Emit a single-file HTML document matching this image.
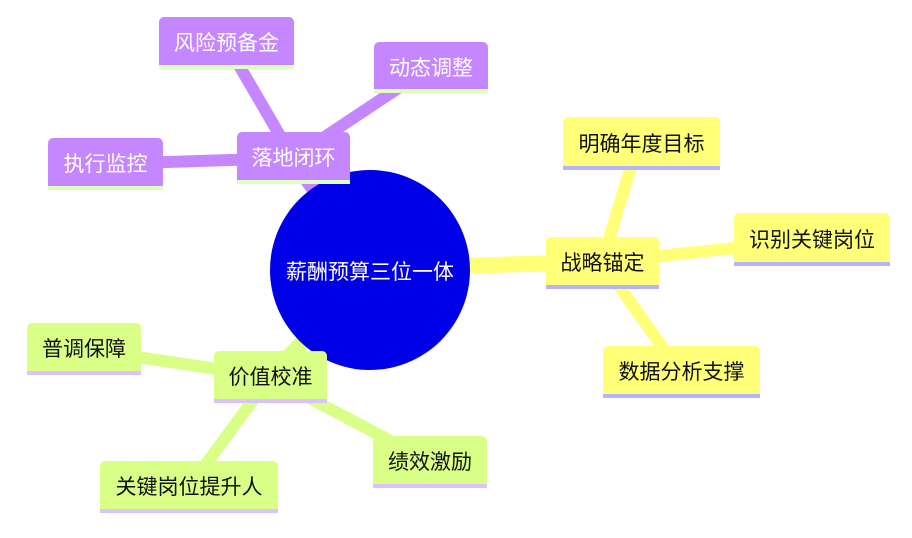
<!DOCTYPE html>
<html><head><meta charset="utf-8"><style>
body{margin:0;width:912px;height:538px;background:#fff;position:relative;overflow:hidden;font-family:"Liberation Sans","Noto Sans CJK SC",sans-serif}
.n{position:absolute;box-sizing:border-box;border-radius:5px 5px 0 0;border-bottom:4px solid;display:flex;align-items:center;justify-content:center;font-size:21px;padding-top:2px}
.y{background:#ffff78;border-color:#b3b3ff;color:#111}
.p{background:#c587ff;border-color:#ddffbf;color:#fff}
.g{background:#d9ff87;border-color:#d9c2ff;color:#111}
svg{position:absolute;left:0;top:0}
</style></head><body>
<svg width="912" height="538">
<g stroke-linecap="butt">
<line x1="380" y1="268" x2="602" y2="262" stroke="#ffff78" stroke-width="16"/>
<line x1="602" y1="262" x2="633" y2="160" stroke="#ffff78" stroke-width="12"/>
<line x1="602" y1="262" x2="812" y2="240" stroke="#ffff78" stroke-width="12"/>
<line x1="602" y1="262" x2="680" y2="372" stroke="#ffff78" stroke-width="12"/>
<line x1="370" y1="270" x2="293" y2="158" stroke="#c587ff" stroke-width="16"/>
<line x1="293" y1="158" x2="226" y2="43" stroke="#c587ff" stroke-width="12"/>
<line x1="293" y1="158" x2="430" y2="67" stroke="#c587ff" stroke-width="12"/>
<line x1="293" y1="158" x2="105" y2="164" stroke="#c587ff" stroke-width="12"/>
<line x1="370" y1="270" x2="270" y2="377" stroke="#d9ff87" stroke-width="16"/>
<line x1="270" y1="377" x2="84" y2="349" stroke="#d9ff87" stroke-width="12"/>
<line x1="270" y1="377" x2="189" y2="487" stroke="#d9ff87" stroke-width="12"/>
<line x1="270" y1="377" x2="430" y2="462" stroke="#d9ff87" stroke-width="12"/>
</g>
<circle cx="370" cy="270" r="100" fill="#0000e8"/>
<text x="370" y="279" fill="#fff" font-size="21" text-anchor="middle" font-family="Liberation Sans, Noto Sans CJK SC, sans-serif">薪酬预算三位一体</text>
</svg>
<div class="n y" style="left:546px;top:237px;width:113px;height:52px">战略锚定</div>
<div class="n y" style="left:563px;top:117px;width:157px;height:53px">明确年度目标</div>
<div class="n y" style="left:734px;top:213px;width:156px;height:53px">识别关键岗位</div>
<div class="n y" style="left:603px;top:346px;width:157px;height:52px">数据分析支撑</div>
<div class="n p" style="left:159px;top:17px;width:135px;height:52px">风险预备金</div>
<div class="n p" style="left:374px;top:42px;width:114px;height:51px">动态调整</div>
<div class="n p" style="left:48px;top:138px;width:115px;height:52px">执行监控</div>
<div class="n p" style="left:237px;top:132px;width:113px;height:52px">落地闭环</div>
<div class="n g" style="left:27px;top:323px;width:114px;height:52px">普调保障</div>
<div class="n g" style="left:214px;top:351px;width:113px;height:52px">价值校准</div>
<div class="n g" style="left:100px;top:461px;width:178px;height:52px">关键岗位提升人</div>
<div class="n g" style="left:373px;top:436px;width:114px;height:52px">绩效激励</div>
</body></html>
